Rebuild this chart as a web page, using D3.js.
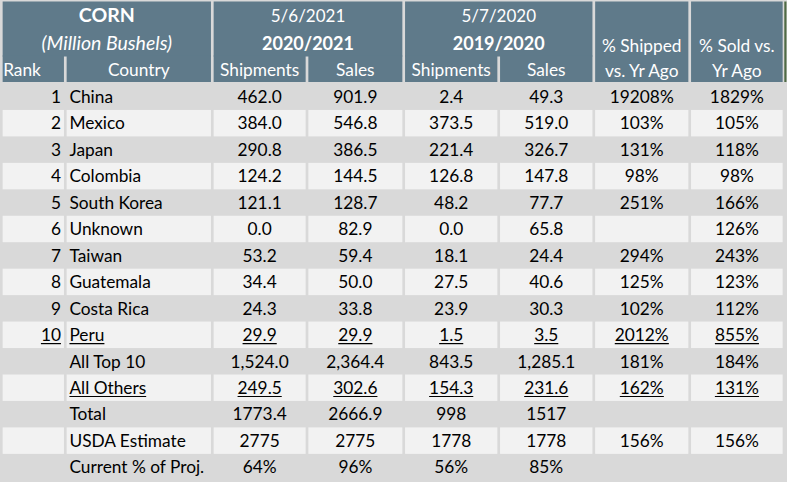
<!DOCTYPE html>
<html><head><meta charset="utf-8">
<script src="https://cdn.jsdelivr.net/npm/d3@7"></script>
<style>body{margin:0;background:#fff;} svg{display:block;}</style>
</head><body><svg id="c" width="787" height="482"></svg>
<script>
// ---- data ----
const ranks = [1,2,3,4,5,6,7,8,9,10];
const countries = ["China","Mexico","Japan","Colombia","South Korea","Unknown","Taiwan","Guatemala","Costa Rica","Peru"];
const ship2021 = [462.0,384.0,290.8,124.2,121.1,0.0,53.2,34.4,24.3,29.9];
const sales2021 = [901.9,546.8,386.5,144.5,128.7,82.9,59.4,50.0,33.8,29.9];
const ship2020 = [2.4,373.5,221.4,126.8,48.2,0.0,18.1,27.5,23.9,1.5];
const sales2020 = [49.3,519.0,326.7,147.8,77.7,65.8,24.4,40.6,30.3,3.5];
const pctShipped = [19208,103,131,98,251,null,294,125,102,2012];
const pctSold = [1829,105,118,98,166,126,243,123,112,855];

const summaryLabels = ["All Top 10","All Others","Total","USDA Estimate","Current % of Proj."];
const sumShip2021 = [1524.0,249.5,1773.4,2775,64];
const sumSales2021 = [2364.4,302.6,2666.9,2775,96];
const sumShip2020 = [843.5,154.3,998,1778,56];
const sumSales2020 = [1285.1,231.6,1517,1778,85];
const sumPctShipped = [181,162,null,156,null];
const sumPctSold = [184,131,null,156,null];

const headerGroups = [
  {cols:["rank","country"], l1:"CORN", l2:"(Million Bushels)"},
  {cols:["s21","x21"], l1:"5/6/2021", l2:"2020/2021"},
  {cols:["s20","x20"], l1:"5/7/2020", l2:"2019/2020"},
];
const subHeaders = {rank:"Rank",country:"Country",s21:"Shipments",x21:"Sales",s20:"Shipments",x20:"Sales"};
const pctHeaders = {ps:["% Shipped","vs. Yr Ago"], px:["% Sold vs.","Yr Ago"]};

// ---- build rows ----
const f1 = d3.format(".1f"), fc = d3.format(",.1f"), fp = v => v==null ? "" : v+"%";
const fraw = v => String(v);
const rows = [];
countries.forEach((c,i)=>{
  rows.push({rank:ranks[i], label:c,
    vals:[ship2021[i],sales2021[i],ship2020[i],sales2020[i]].map(f1).concat([fp(pctShipped[i]),fp(pctSold[i])]),
    ul: i===9});
});
const sumFmts = [fc, f1, fraw, fraw, v=>v+"%"];
summaryLabels.forEach((s,i)=>{
  rows.push({rank:null,label:s,
    vals:[sumShip2021[i],sumSales2021[i],sumShip2020[i],sumSales2020[i]].map(sumFmts[i]).concat([fp(sumPctShipped[i]),fp(sumPctSold[i])]),
    ul: i===1});
});

// ---- layout ----
const keys = ["rank","country","s21","x21","s20","x20","ps","px"];
const edges = [1.3,65.3,212.3,307,403.7,498.7,593.8,689.7,784];
const gap = 2.7;
const colL = d3.scaleOrdinal(keys, edges.slice(0,-1).map(e=>e+gap/2));
const colR = d3.scaleOrdinal(keys, edges.slice(1).map(e=>e-gap/2));
const colC = k => (colL(k)+colR(k))/2;
const y = d3.scaleBand().domain(d3.range(rows.length)).range([83.5,480.3]);

const HEAD = "#5f7a8a", DARK = "#d9d9d9", LIGHT = "#f2f2f2";
const FONT = "Lato";
const svg = d3.select("#c");
svg.append("rect").attr("width",787).attr("height",482).attr("fill",DARK);

// header
const hTop = 1.5, hBot = 82, subTop = 55.5;
const hg = svg.append("g");
headerGroups.forEach(g=>{
  const l = colL(g.cols[0]), r = colR(g.cols[1]);
  hg.append("rect").attr("x",l).attr("y",hTop).attr("width",r-l).attr("height",subTop-hTop+1).attr("fill",HEAD);
  g.cols.forEach(k=>{
    hg.append("rect").attr("x",colL(k)).attr("y",subTop).attr("width",colR(k)-colL(k)).attr("height",hBot-subTop).attr("fill",HEAD);
  });
  const cx=(l+r)/2;
  const isCorn = g.l1==="CORN";
  hg.append("text").attr("x",cx).attr("y",15+6.8).attr("text-anchor","middle")
    .attr("font-family",FONT).attr("font-size",isCorn?19.5:17).attr("font-weight",isCorn?"bold":"normal").attr("fill","#fff").text(g.l1);
  hg.append("text").attr("x",cx).attr("y",43+6.6).attr("text-anchor","middle")
    .attr("font-family",FONT).attr("font-size",isCorn?19.5:18).attr("font-weight",isCorn?"normal":"bold")
    .attr("font-style",isCorn?"italic":"normal").attr("fill","#fff").text(g.l2);
});
Object.entries(subHeaders).forEach(([k,t])=>{
  const isRank = k==="rank";
  hg.append("text").attr("x",isRank?colL(k)+0.5:colC(k)).attr("y",70+6.3).attr("text-anchor",isRank?"start":"middle")
    .attr("font-family",FONT).attr("font-size",17.3).attr("fill","#fff").text(t);
});
Object.entries(pctHeaders).forEach(([k,ls])=>{
  hg.append("rect").attr("x",colL(k)).attr("y",hTop).attr("width",colR(k)-colL(k)).attr("height",hBot-hTop).attr("fill",HEAD);
  ls.forEach((t,i)=>{
    hg.append("text").attr("x",colC(k)).attr("y",(i?71:46)+6.3).attr("text-anchor","middle")
      .attr("font-family",FONT).attr("font-size",17.3).attr("fill","#fff").text(t);
  });
});
hg.append("rect").attr("x",784.3).attr("y",hTop).attr("width",2.2).attr("height",hBot-hTop).attr("fill","#4f6a45");

// body
const bg = svg.append("g");
rows.forEach((r,i)=>{
  const top = y(i), h = y.bandwidth(), cy = top+h/2;
  if(i%2===1){
    keys.forEach(k=>{
      bg.append("rect").attr("x",colL(k)).attr("y",top).attr("width",colR(k)-colL(k)).attr("height",h).attr("fill",LIGHT);
    });
  }
  const cells = [];
  if(r.rank!=null) cells.push({x:colR("rank")-3,a:"end",t:String(r.rank)});
  cells.push({x:colL("country")+2.8,a:"start",t:r.label});
  r.vals.forEach((v,j)=>cells.push({x:colC(keys[j+2]),a:"middle",t:v}));
  cells.forEach(c=>{
    if(!c.t) return;
    const tx = bg.append("text").attr("x",c.x).attr("y",cy+6.3).attr("text-anchor",c.a)
      .attr("font-family",FONT).attr("font-size",17.3).attr("fill","#000").text(c.t);
    if(r.ul){
      const b = tx.node().getBBox();
      bg.append("line").attr("x1",b.x).attr("x2",b.x+b.width).attr("y1",cy+8.8).attr("y2",cy+8.8)
        .attr("stroke","#000").attr("stroke-width",1.2);
    }
  });
});
</script></body></html>
